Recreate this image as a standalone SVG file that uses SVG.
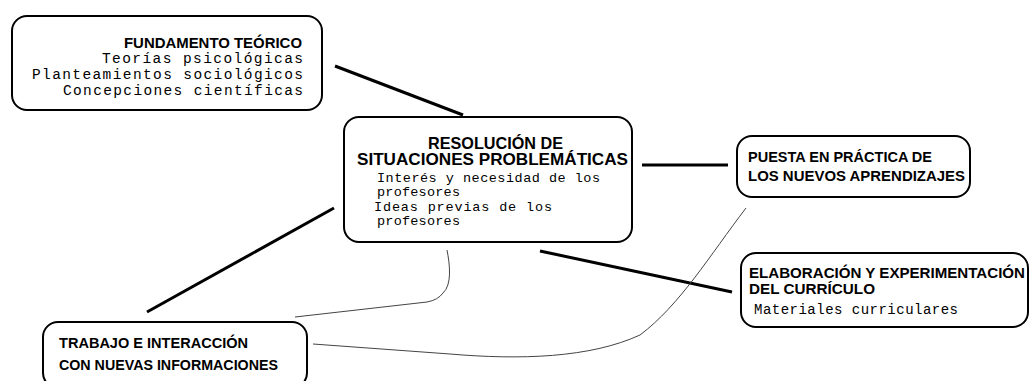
<svg xmlns="http://www.w3.org/2000/svg" width="1031" height="381" viewBox="0 0 1031 381">
<style>
.box{fill:#fff;stroke:#000;stroke-width:2}
.h{font-family:"Liberation Sans",Arial,sans-serif;font-weight:bold;fill:#000}
.m{font-family:"Liberation Mono","Courier New",monospace;fill:#000}
.thick{stroke:#000;stroke-width:3;fill:none}
.thin{stroke:#444;stroke-width:1;fill:none}
</style>
<rect width="1031" height="381" fill="#fff"/>
<g id="connectors">
<line class="thick" x1="335" y1="66" x2="463" y2="115"/>
<line class="thick" x1="642" y1="165" x2="728" y2="165"/>
<line class="thick" x1="540" y1="251" x2="732" y2="292"/>
<line class="thick" x1="147" y1="312" x2="334" y2="208"/>
<path class="thin" d="M447,250 C450,265 452,285 443,293 Q438,300 427,302 L295,317"/>
<path class="thin" d="M313,344 L450,354 C520,360 590,358 640,335 C680,305 710,255 746,208"/>
</g>
<g id="fundamento">
<rect class="box" x="12" y="16" width="310" height="94" rx="15"/>
<text class="h" x="302" y="48" font-size="15" text-anchor="end" textLength="178" lengthAdjust="spacingAndGlyphs">FUNDAMENTO TEÓRICO</text>
<text class="m" x="102" y="63" font-size="14.5" textLength="201" lengthAdjust="spacing">Teorías psicológicas</text>
<text class="m" x="32" y="79" font-size="14.5" textLength="271" lengthAdjust="spacing">Planteamientos sociológicos</text>
<text class="m" x="63" y="95" font-size="14.5" textLength="240" lengthAdjust="spacing">Concepciones científicas</text>
</g>
<g id="resolucion">
<rect class="box" x="344" y="117" width="288" height="125" rx="15"/>
<text class="h" x="428" y="149" font-size="16.5" textLength="135" lengthAdjust="spacingAndGlyphs">RESOLUCIÓN DE</text>
<text class="h" x="357" y="165" font-size="16.5" textLength="271" lengthAdjust="spacingAndGlyphs">SITUACIONES PROBLEMÁTICAS</text>
<text class="m" x="377" y="182" font-size="13.5" textLength="223" lengthAdjust="spacing">Interés y necesidad de los</text>
<text class="m" x="377" y="196" font-size="13.5" textLength="83" lengthAdjust="spacing">profesores</text>
<text class="m" x="374" y="211" font-size="13.5" textLength="178" lengthAdjust="spacing">Ideas previas de los</text>
<text class="m" x="377" y="225" font-size="13.5" textLength="83" lengthAdjust="spacing">profesores</text>
</g>
<g id="puesta">
<rect class="box" x="737" y="136" width="233" height="61" rx="15"/>
<text class="h" x="748" y="162" font-size="15" textLength="184" lengthAdjust="spacingAndGlyphs">PUESTA EN PRÁCTICA DE</text>
<text class="h" x="748" y="181" font-size="15" textLength="217" lengthAdjust="spacingAndGlyphs">LOS NUEVOS APRENDIZAJES</text>
</g>
<g id="elaboracion">
<rect class="box" x="741" y="253" width="287" height="74" rx="15"/>
<text class="h" x="749" y="278" font-size="15" textLength="276" lengthAdjust="spacingAndGlyphs">ELABORACIÓN Y EXPERIMENTACIÓN</text>
<text class="h" x="749" y="294" font-size="15" textLength="126" lengthAdjust="spacingAndGlyphs">DEL CURRÍCULO</text>
<text class="m" x="754" y="314" font-size="14" textLength="204" lengthAdjust="spacing">Materiales curriculares</text>
</g>
<g id="trabajo">
<rect class="box" x="43" y="322" width="264" height="66" rx="15"/>
<text class="h" x="59" y="348" font-size="15" textLength="189" lengthAdjust="spacingAndGlyphs">TRABAJO E INTERACCIÓN</text>
<text class="h" x="59" y="370" font-size="15" textLength="219" lengthAdjust="spacingAndGlyphs">CON NUEVAS INFORMACIONES</text>
</g>
</svg>
